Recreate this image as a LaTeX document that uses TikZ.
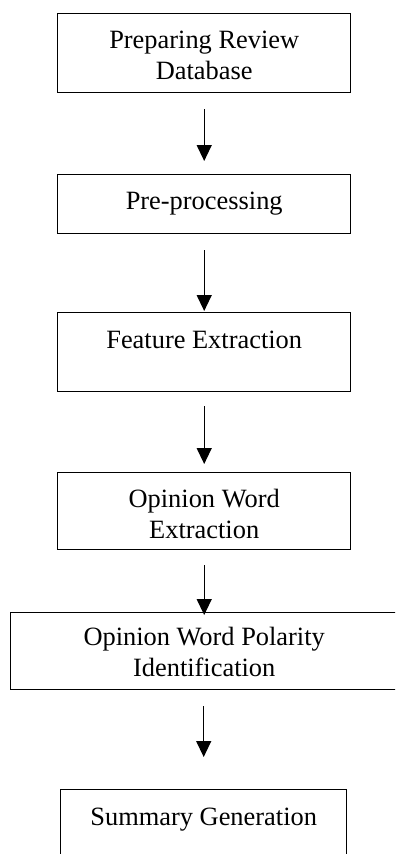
\documentclass[tikz,border=0pt]{standalone}
\usepackage{fontspec}
\setmainfont{Liberation Serif}
\usetikzlibrary{arrows.meta}
\begin{document}
\begin{tikzpicture}[x=1bp,y=-1bp,
  box/.style={draw, line width=1.4bp, inner sep=0pt, anchor=north west},
  lbl/.style={inner sep=0pt, align=center, anchor=base,
    font=\fontsize{26.4bp}{31bp}\selectfont},
  arr/.style={line width=1.3bp, -{Triangle[length=16bp,width=15bp]}}]
\useasboundingbox (0,0) rectangle (395,854);
\clip (0,0) rectangle (395,854);
\node[box, minimum width=293bp, minimum height=79bp] (b1) at (57,13) {};
\node[box, minimum width=293bp, minimum height=59bp] (b2) at (57,174) {};
\node[box, minimum width=293bp, minimum height=79bp] (b3) at (57,312) {};
\node[box, minimum width=293bp, minimum height=77bp] (b4) at (57,472) {};
\node[box, minimum width=395bp, minimum height=77bp] (b5) at (10,612) {};
\node[box, minimum width=286bp, minimum height=100bp] (b6) at (60,789) {};
\node[lbl] (t1) at ([yshift=-66bp]b1.north) {Preparing Review\\Database};
\node[lbl] (t2) at ([yshift=-35bp]b2.north) {Pre-processing};
\node[lbl] (t3) at ([yshift=-36bp]b3.north) {Feature Extraction};
\node[lbl] (t4) at ([yshift=-66bp]b4.north) {Opinion Word\\Extraction};
\node[lbl] (t5) at ([yshift=-64bp]b4.south |- b5.north) {Opinion Word Polarity\\Identification};
\node[lbl] (t6) at ([yshift=-36bp]b6.north) {Summary Generation};
\draw[arr] ([yshift=-16bp]b1.south) -- ([yshift=13bp]b2.north);
\draw[arr] ([yshift=-16bp]b2.south) -- ([yshift=1bp]b3.north);
\draw[arr] ([yshift=-14bp]b3.south) -- ([yshift=8bp]b4.north);
\draw[arr] ([yshift=-15bp]b4.south) -- ([yshift=-3bp]b4.south |- b5.north);
\draw[arr] ([yshift=-16bp]b5.south -| b6.north) -- ([yshift=32bp]b6.north);
\end{tikzpicture}
\end{document}
